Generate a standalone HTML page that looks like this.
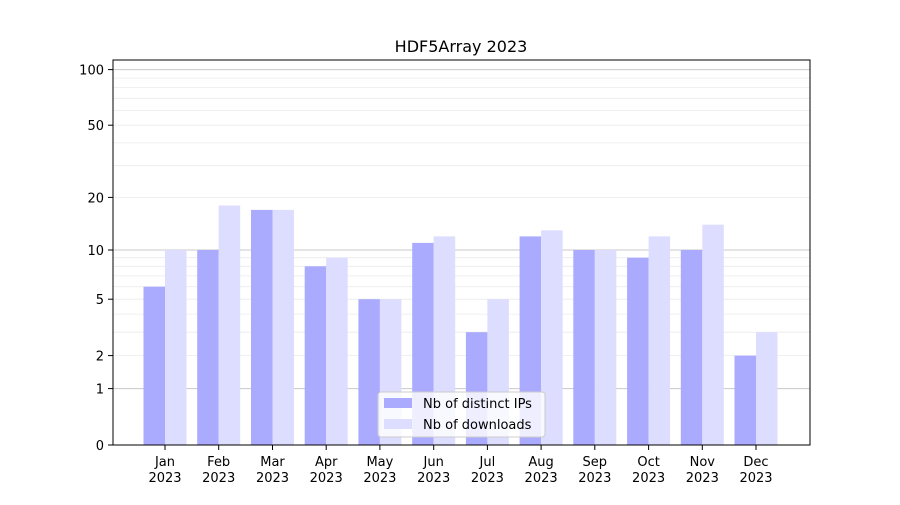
<!DOCTYPE html>
<html><head><meta charset="utf-8"><style>
body{margin:0;background:#fff;}
text{font-family:"DejaVu Sans","Liberation Sans",sans-serif;font-size:13px;fill:#000;}
</style></head><body>
<svg width="900" height="500" xmlns="http://www.w3.org/2000/svg">
<rect width="900" height="500" fill="#fff"/>
<g stroke="#ebebeb" stroke-width="0.8">
<line x1="113" x2="810" y1="355.6" y2="355.6"/><line x1="113" x2="810" y1="332.2" y2="332.2"/>
<line x1="113" x2="810" y1="314.1" y2="314.1"/><line x1="113" x2="810" y1="299.2" y2="299.2"/>
<line x1="113" x2="810" y1="286.7" y2="286.7"/><line x1="113" x2="810" y1="275.9" y2="275.9"/>
<line x1="113" x2="810" y1="266.3" y2="266.3"/><line x1="113" x2="810" y1="257.7" y2="257.7"/>
<line x1="113" x2="810" y1="197.4" y2="197.4"/><line x1="113" x2="810" y1="165.7" y2="165.7"/>
<line x1="113" x2="810" y1="142.9" y2="142.9"/><line x1="113" x2="810" y1="125.2" y2="125.2"/>
<line x1="113" x2="810" y1="110.6" y2="110.6"/><line x1="113" x2="810" y1="98.3" y2="98.3"/>
<line x1="113" x2="810" y1="87.5" y2="87.5"/><line x1="113" x2="810" y1="78.1" y2="78.1"/>
</g>
<g stroke="#c8c8c8" stroke-width="1">
<line x1="113" x2="810" y1="388.6" y2="388.6"/><line x1="113" x2="810" y1="250" y2="250"/><line x1="113" x2="810" y1="69.6" y2="69.6"/>
</g>
<g fill="#aaaaff">
<rect x="143.5" y="286.7" width="21.5" height="158.3"/>
<rect x="197.2" y="250" width="21.5" height="195"/>
<rect x="251" y="209.9" width="21.5" height="235.1"/>
<rect x="304.7" y="266.3" width="21.5" height="178.7"/>
<rect x="358.4" y="299.2" width="21.5" height="145.8"/>
<rect x="412.2" y="242.9" width="21.5" height="202.1"/>
<rect x="465.9" y="332.2" width="21.5" height="112.8"/>
<rect x="519.6" y="236.4" width="21.5" height="208.6"/>
<rect x="573.3" y="250" width="21.5" height="195"/>
<rect x="627.1" y="257.7" width="21.5" height="187.3"/>
<rect x="680.8" y="250" width="21.5" height="195"/>
<rect x="734.5" y="355.6" width="21.5" height="89.4"/>
</g>
<g fill="#ddddff">
<rect x="165" y="250" width="21.5" height="195"/>
<rect x="218.7" y="205.5" width="21.5" height="239.5"/>
<rect x="272.5" y="209.9" width="21.5" height="235.1"/>
<rect x="326.2" y="257.7" width="21.5" height="187.3"/>
<rect x="379.9" y="299.2" width="21.5" height="145.8"/>
<rect x="433.7" y="236.4" width="21.5" height="208.6"/>
<rect x="487.4" y="299.2" width="21.5" height="145.8"/>
<rect x="541.1" y="230.3" width="21.5" height="214.7"/>
<rect x="594.8" y="250" width="21.5" height="195"/>
<rect x="648.6" y="236.4" width="21.5" height="208.6"/>
<rect x="702.3" y="224.7" width="21.5" height="220.3"/>
<rect x="756" y="332.2" width="21.5" height="112.8"/>
</g>
<rect x="113" y="60" width="697" height="385" fill="none" stroke="#000" stroke-width="1"/>
<g stroke="#000" stroke-width="1">
<line x1="108" x2="113" y1="445" y2="445"/><line x1="108" x2="113" y1="388.6" y2="388.6"/>
<line x1="108" x2="113" y1="355.6" y2="355.6"/><line x1="108" x2="113" y1="299.2" y2="299.2"/>
<line x1="108" x2="113" y1="250" y2="250"/><line x1="108" x2="113" y1="197.4" y2="197.4"/>
<line x1="108" x2="113" y1="125.2" y2="125.2"/><line x1="108" x2="113" y1="69.6" y2="69.6"/>
</g>
<g text-anchor="end">
<text x="104" y="450">0</text><text x="104" y="393.6">1</text><text x="104" y="360.6">2</text>
<text x="104" y="304.2">5</text><text x="104" y="255">10</text><text x="104" y="202.4">20</text>
<text x="104" y="130.2">50</text><text x="104" y="74.6">100</text>
</g>
<g stroke="#000"><line x1="165" x2="165" y1="445" y2="450"/><line x1="218.7" x2="218.7" y1="445" y2="450"/><line x1="272.5" x2="272.5" y1="445" y2="450"/><line x1="326.2" x2="326.2" y1="445" y2="450"/><line x1="379.9" x2="379.9" y1="445" y2="450"/><line x1="433.7" x2="433.7" y1="445" y2="450"/><line x1="487.4" x2="487.4" y1="445" y2="450"/><line x1="541.1" x2="541.1" y1="445" y2="450"/><line x1="594.8" x2="594.8" y1="445" y2="450"/><line x1="648.6" x2="648.6" y1="445" y2="450"/><line x1="702.3" x2="702.3" y1="445" y2="450"/><line x1="756" x2="756" y1="445" y2="450"/></g>
<g text-anchor="middle">
<text x="165" y="466">Jan</text><text x="165" y="482">2023</text>
<text x="218.7" y="466">Feb</text><text x="218.7" y="482">2023</text>
<text x="272.5" y="466">Mar</text><text x="272.5" y="482">2023</text>
<text x="326.2" y="466">Apr</text><text x="326.2" y="482">2023</text>
<text x="379.9" y="466">May</text><text x="379.9" y="482">2023</text>
<text x="433.7" y="466">Jun</text><text x="433.7" y="482">2023</text>
<text x="487.4" y="466">Jul</text><text x="487.4" y="482">2023</text>
<text x="541.1" y="466">Aug</text><text x="541.1" y="482">2023</text>
<text x="594.8" y="466">Sep</text><text x="594.8" y="482">2023</text>
<text x="648.6" y="466">Oct</text><text x="648.6" y="482">2023</text>
<text x="702.3" y="466">Nov</text><text x="702.3" y="482">2023</text>
<text x="756" y="466">Dec</text><text x="756" y="482">2023</text>
<text x="461" y="52" style="font-size:16px">HDF5Array 2023</text>
</g>
<rect x="378" y="392" width="167" height="45" rx="3" fill="#fff" fill-opacity="0.8" stroke="#ccc"/>
<rect x="384" y="398" width="28" height="10" fill="#aaaaff"/>
<rect x="384" y="419" width="28" height="10" fill="#ddddff"/>
<text x="423" y="408">Nb of distinct IPs</text>
<text x="423" y="429">Nb of downloads</text>
</svg>
</body></html>
